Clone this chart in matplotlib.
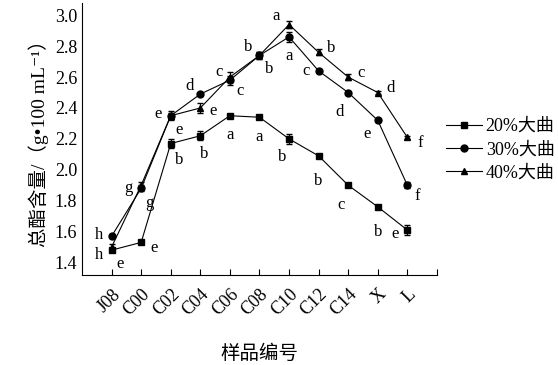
import matplotlib.pyplot as plt
from matplotlib.lines import Line2D

plt.rcParams['font.family'] = ['Liberation Serif', 'Noto Sans CJK SC', 'DejaVu Serif']

samples = ['J08', 'C00', 'C02', 'C04', 'C06', 'C08', 'C10', 'C12', 'C14', 'X', 'L']
x = list(range(len(samples)))

v20 = [1.48, 1.53, 2.17, 2.22, 2.35, 2.34, 2.20, 2.09, 1.90, 1.76, 1.61]
v30 = [1.57, 1.88, 2.35, 2.49, 2.58, 2.74, 2.86, 2.64, 2.50, 2.32, 1.90]
v40 = [1.50, 1.90, 2.35, 2.40, 2.60, 2.74, 2.94, 2.76, 2.60, 2.50, 2.21]
e20 = [0.01, 0.01, 0.03, 0.03, 0.01, 0.01, 0.03, 0.01, 0.01, 0.01, 0.03]
e30 = [0.01, 0.02, 0.02, 0.01, 0.03, 0.02, 0.03, 0.01, 0.01, 0.01, 0.02]
e40 = [0.02, 0.02, 0.03, 0.03, 0.03, 0.02, 0.02, 0.02, 0.02, 0.01, 0.01]
l20 = ['e', 'e', 'b', 'b', 'a', 'a', 'b', 'b', 'c', 'b', 'e']
l30 = ['h', 'g', 'e', 'd', 'c', 'b', 'a', 'c', 'd', 'e', 'f']
l40 = ['h', 'g', 'e', 'e', 'c', 'b', 'a', 'b', 'c', 'd', 'f']

# letter offsets in points
o20 = [(6, -10), (9, -4), (6, -12), (3, -13), (0, -14), (0, -14), (-5, -13), (0, -18), (-5, -14), (0, -18), (-9, -3)]
o30 = [(-9, 1), (-9, 0), (-9, 1), (-8, 6), (-8, 6), (-8, 6), (0, -14), (-9, 0), (-6, -14), (-8, -10), (7, -8)]
o40 = [(-9, -6), (6, -13), (6, -10), (9, -2), (7, -10), (7, -10), (-9, 6), (9, 3), (9, 3), (9, 3), (9, -4)]

fig = plt.figure(figsize=(5.58, 3.65), dpi=100)
ax = fig.add_axes([0.147, 0.247, 0.636, 0.745])

handles = []
for v, e, m, lab, lets, offs in [(v20, e20, 's', '20%大曲', l20, o20),
                                  (v30, e30, 'o', '30%大曲', l30, o30),
                                  (v40, e40, '^', '40%大曲', l40, o40)]:
    ax.errorbar(x, v, yerr=e, color='black', marker=m, ms=5, lw=0.8,
                elinewidth=0.8, capsize=2.5)
    handles.append(Line2D([], [], color='black', marker=m, ms=5, lw=0.8, label=lab))
    for xi, vi, t, o in zip(x, v, lets, offs):
        ax.annotate(t, (xi, vi), xytext=o, textcoords='offset points',
                    ha='center', va='center', fontsize=12)

ax.set_xlim(-1, 11)
ax.set_ylim(1.32, 3.08)
ax.set_xticks(list(range(12)))
ax.set_xticklabels(samples + [''], rotation=45, ha='right', rotation_mode='anchor',
                   fontsize=13)
ax.set_yticks([1.4, 1.6, 1.8, 2.0, 2.2, 2.4, 2.6, 2.8, 3.0])
ax.set_yticklabels(['1.4', '1.6', '1.8', '2.0', '2.2', '2.4', '2.6', '2.8', '3.0'], fontsize=13)
ax.tick_params(direction='in', length=4, width=0.8)
ax.tick_params(axis='x', pad=8)
ax.tick_params(axis='y', length=0)
ax.spines['top'].set_visible(False)
ax.spines['right'].set_visible(False)
ax.set_xlabel('样品编号', fontsize=14, labelpad=18)
ax.set_ylabel('总酯含量/（g•100 mL⁻¹）', fontsize=14, labelpad=4)

ax.legend(handles=handles, loc='center left', bbox_to_anchor=(0.77, 0.59),
          bbox_transform=fig.transFigure, frameon=False, fontsize=13,
          handlelength=2.0, handletextpad=0.2, labelspacing=0.35)

fig.savefig('out.png', dpi=100)
